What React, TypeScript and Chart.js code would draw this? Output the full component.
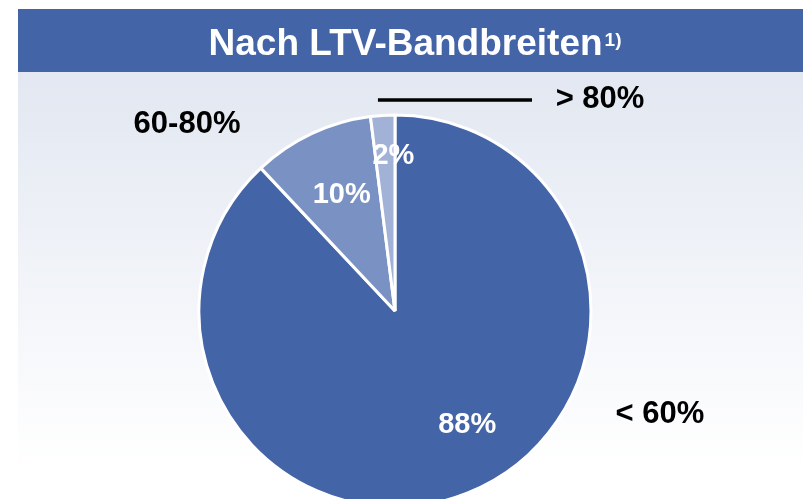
import React, { useEffect, useRef } from "react";
import { Chart, registerables } from "chart.js";

Chart.register(...registerables);

// ---- data ----
const categories = ["< 60%", "60-80%", "> 80%"];
const shares = [88, 10, 2];
const valueLabels = ["88%", "10%", "2%"];
const titleText = "Nach LTV-Bandbreiten";
const titleNote = "1)";

// ---- styles / placement ----
const sliceColors = ["#4364a6", "#7a92c3", "#a2b2d6"];
const FONT = "'Liberation Sans', Arial, Helvetica, sans-serif";
// value labels: fraction of radius and angular shift (deg) from slice mid-angle
const valuePlacement = [
  { r: 0.69, dAngle: -10.7 },
  { r: 0.65, dAngle: 0.5 },
  { r: 0.79, dAngle: 3 },
];
// category labels: offset from pie centre, in radius units
const categoryPlacement = [
  { dx: 1.352, dy: 0.526 },
  { dx: -1.061, dy: -0.954 },
  { dx: 1.046, dy: -1.077 },
];
// leader line for the small slice (radius units)
const leader = { x1: -0.087, x2: 0.699, y: -1.077 };

const decorPlugin = {
  id: "decor",
  beforeDraw(chart: any) {
    const ctx = chart.ctx as CanvasRenderingContext2D;
    ctx.save();
    const g = ctx.createLinearGradient(0, 72, 0, 467);
    g.addColorStop(0, "#e2e7f1");
    g.addColorStop(1, "#ffffff");
    ctx.fillStyle = g;
    ctx.fillRect(18, 72, 785, 395);

    ctx.fillStyle = "#4364a6";
    ctx.fillRect(18, 9, 785, 63);

    ctx.fillStyle = "#ffffff";
    ctx.textBaseline = "alphabetic";
    ctx.textAlign = "left";
    ctx.font = `bold 37px ${FONT}`;
    const mainW = ctx.measureText(titleText).width;
    ctx.font = `bold 19px ${FONT}`;
    const noteW = ctx.measureText(titleNote).width;
    const total = mainW + 2 + noteW;
    const x0 = 415 - total / 2;
    ctx.font = `bold 37px ${FONT}`;
    ctx.fillText(titleText, x0, 55);
    ctx.font = `bold 19px ${FONT}`;
    ctx.fillText(titleNote, x0 + mainW + 2, 46);
    ctx.restore();
  },
  afterDatasetsDraw(chart: any) {
    const ctx = chart.ctx as CanvasRenderingContext2D;
    const meta = chart.getDatasetMeta(0);
    ctx.save();
    ctx.textAlign = "center";
    ctx.textBaseline = "middle";
    let cx = 0,
      cy = 0,
      R = 0;
    meta.data.forEach((arc: any, i: number) => {
      const p = arc.getProps(["x", "y", "startAngle", "endAngle", "outerRadius"], true);
      cx = p.x;
      cy = p.y;
      R = p.outerRadius;
      const pl = valuePlacement[i];
      const mid = (p.startAngle + p.endAngle) / 2 + (pl.dAngle * Math.PI) / 180;
      const r = p.outerRadius * pl.r;
      ctx.fillStyle = "#ffffff";
      ctx.font = `bold 29px ${FONT}`;
      ctx.fillText(valueLabels[i], cx + Math.cos(mid) * r, cy + Math.sin(mid) * r);
    });
    ctx.fillStyle = "#000000";
    ctx.font = `bold 31px ${FONT}`;
    categories.forEach((c, i) => {
      const pl = categoryPlacement[i];
      ctx.fillText(c, cx + pl.dx * R, cy + pl.dy * R);
    });
    ctx.strokeStyle = "#000000";
    ctx.lineWidth = 3.5;
    ctx.beginPath();
    ctx.moveTo(cx + leader.x1 * R, cy + leader.y * R);
    ctx.lineTo(cx + leader.x2 * R, cy + leader.y * R);
    ctx.stroke();
    ctx.restore();
  },
};

export default function App() {
  const ref = useRef<HTMLCanvasElement | null>(null);
  useEffect(() => {
    if (!ref.current) return;
    const chart = new Chart(ref.current, {
      type: "pie",
      data: {
        labels: categories,
        datasets: [
          {
            data: shares,
            backgroundColor: sliceColors,
            borderColor: "#ffffff",
            borderWidth: 3,
            radius: 196,
          } as any,
        ],
      },
      options: {
        responsive: false,
        animation: false,
        events: [],
        layout: { padding: { left: 0, right: 13, top: 123, bottom: 0 } },
        plugins: {
          legend: { display: false },
          tooltip: { enabled: false },
          title: { display: false },
        },
      },
      plugins: [decorPlugin],
    });
    return () => chart.destroy();
  }, []);
  return (
    <div style={{ position: "absolute", left: 0, top: 0, width: 803, height: 499, background: "#ffffff" }}>
      <canvas ref={ref} width={803} height={499} style={{ display: "block" }} />
    </div>
  );
}
